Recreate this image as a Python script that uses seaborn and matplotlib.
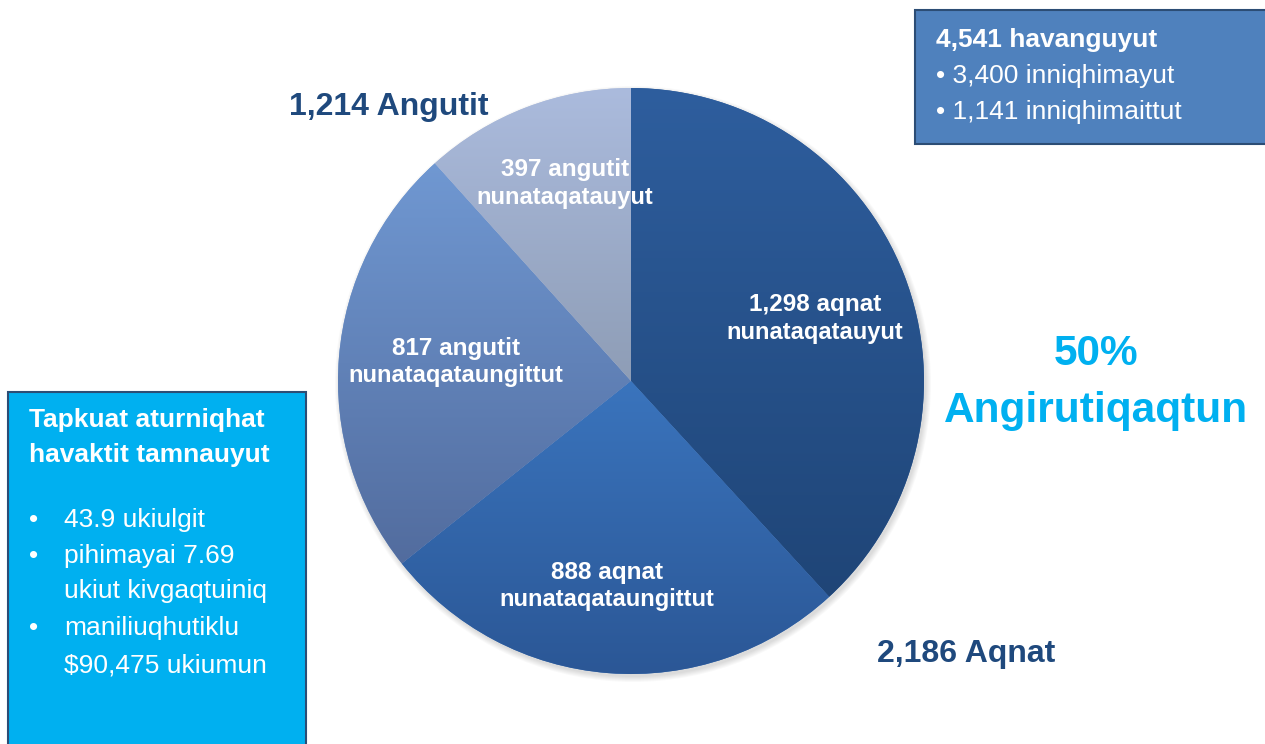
import numpy as np
import seaborn as sns
import matplotlib.pyplot as plt
from matplotlib.patches import Rectangle, Circle
from matplotlib.colors import to_rgb

sns.set_theme(style="white")
plt.rcParams["font.family"] = ["Liberation Sans", "DejaVu Sans"]

# ---- data -------------------------------------------------------------
slice_values = [1298, 888, 817, 397]
slice_labels = ["1,298 aqnat\nnunataqatauyut",
                "888 aqnat\nnunataqataungittut",
                "817 angutit\nnunataqataungittut",
                "397 angutit\nnunataqatauyut"]
# gradient (top, bottom) per slice
slice_top = ["#2E5E9E", "#3A74BD", "#7098D2", "#ABBBDD"]
slice_bottom = ["#1F4577", "#2B5796", "#526C9E", "#8E9DB6"]

group_titles = ["1,214 Angutit", "2,186 Aqnat"]
share_text = ["50%", "Angirutiqaqtun"]
household_title = "4,541 havanguyut"
household_lines = ["\u2022 3,400 inniqhimayut", "\u2022 1,141 inniqhimaittut"]
facts_title = ["Tapkuat aturniqhat", "havaktit tamnauyut"]
facts_items = [["43.9 ukiulgit"],
               ["pihimayai 7.69", "ukiut kivgaqtuiniq"],
               ["maniliuqhutiklu", "$90,475 ukiumun"]]

DARK = "#1F497D"
CYAN = "#00B0F0"

# ---- figure (1 data unit = 1 pixel, y measured from bottom) ----------
W, H = 1265, 744
fig = plt.figure(figsize=(W / 100, H / 100), dpi=100)
ax = fig.add_axes([0, 0, 1, 1])
Y = lambda py: H - py

cx, cy, R = 631, Y(381), 293

# soft shadow behind the pie
for i in range(6):
    ax.add_patch(Circle((cx + 2, cy - 3), R + i, color="black",
                        alpha=0.025, lw=0, zorder=0))

wedges, _ = ax.pie(slice_values, startangle=90, counterclock=False,
                   center=(cx, cy), radius=R, colors=slice_top,
                   wedgeprops=dict(linewidth=0))

for w, top, bot in zip(wedges, slice_top, slice_bottom):
    bb = w.get_path().get_extents()
    t = np.linspace(0, 1, 256)[:, None, None]
    grad = (1 - t) * np.array(to_rgb(top)) + t * np.array(to_rgb(bot))
    im = ax.imshow(grad, extent=(bb.x0, bb.x1, bb.y0, bb.y1),
                   origin="upper", aspect="auto", zorder=2,
                   interpolation="bilinear")
    im.set_clip_path(w)

# slice labels (baselines of the two lines)
label_pos = [(815, 311, 339), (607, 579, 606), (456, 355, 382), (565, 176, 204)]
for lab, (x, b1, b2) in zip(slice_labels, label_pos):
    l1, l2 = lab.split("\n")
    ax.text(x, Y(b1), l1, ha="center", va="baseline", color="white",
            fontsize=17.5, fontweight="bold", zorder=5)
    ax.text(x, Y(b2), l2, ha="center", va="baseline", color="white",
            fontsize=17, fontweight="bold", zorder=5)

# group totals
ax.text(289, Y(115), group_titles[0], ha="left", va="baseline",
        color=DARK, fontsize=23, fontweight="bold")
ax.text(877, Y(662), group_titles[1], ha="left", va="baseline",
        color=DARK, fontsize=23, fontweight="bold")

# 50% share
ax.text(1096, Y(365), share_text[0], ha="center", va="baseline",
        color=CYAN, fontsize=30.5, fontweight="bold")
ax.text(1096, Y(422), share_text[1], ha="center", va="baseline",
        color=CYAN, fontsize=30.5, fontweight="bold")

# top-right household box
ax.add_patch(Rectangle((915, Y(144)), 365, 134, facecolor="#4F81BD",
                       edgecolor="#2C4D75", lw=1.5, zorder=3))
ax.text(936, Y(47), household_title, color="white", fontsize=19,
        fontweight="bold", va="baseline", zorder=4)
for line, b in zip(household_lines, [83, 119]):
    ax.text(936, Y(b), line, color="white", fontsize=19,
            va="baseline", zorder=4)

# left facts box
ax.add_patch(Rectangle((8, Y(760)), 298, 368, facecolor=CYAN,
                       edgecolor="#2C4D75", lw=1.5, zorder=3))
for line, b in zip(facts_title, [427, 462]):
    ax.text(29, Y(b), line, color="white", fontsize=19,
            fontweight="bold", va="baseline", zorder=4)
bases = [[527], [563, 598], [635, 672]]
for item, bl in zip(facts_items, bases):
    ax.text(29, Y(bl[0]), "\u2022", color="white", fontsize=19,
            va="baseline", zorder=4)
    for line, b in zip(item, bl):
        ax.text(64, Y(b), line, color="white", fontsize=19,
                va="baseline", zorder=4)

ax.set_xlim(0, W)
ax.set_ylim(0, H)
ax.set_aspect("auto")
ax.axis("off")

fig.savefig("out.png", dpi=100, facecolor="white")
